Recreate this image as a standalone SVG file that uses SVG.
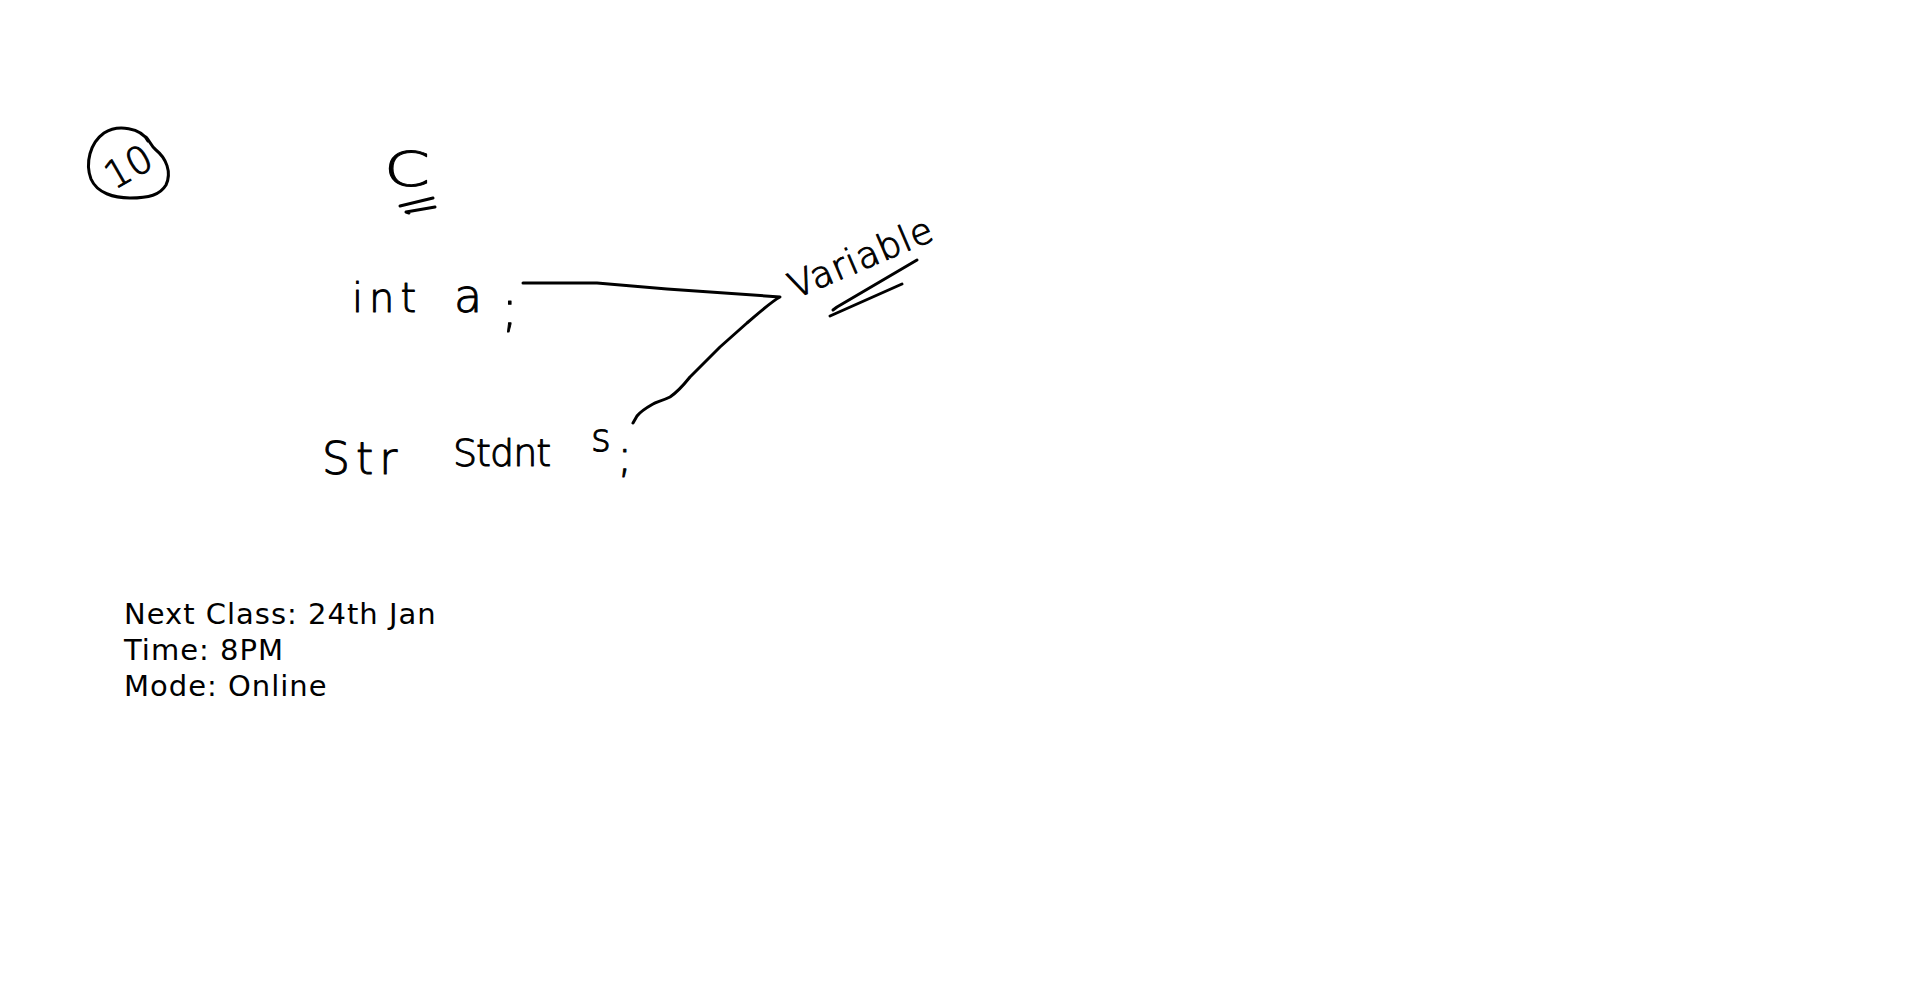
<svg xmlns="http://www.w3.org/2000/svg" width="1920" height="991" viewBox="0 0 1920 991">
<style>
.ink{fill:none;stroke:#000;stroke-width:3;stroke-linecap:round;stroke-linejoin:round}
.hw{font-family:"DejaVu Sans","Liberation Sans",sans-serif;font-weight:200;fill:#000;stroke:#000;stroke-width:1;stroke-linejoin:round}
.note{font-family:"DejaVu Sans","Verdana","Liberation Sans",sans-serif;font-size:29px;letter-spacing:1px;fill:#000}
</style>
<rect width="1920" height="991" fill="#fff"/>
<g id="badge-10">
<path class="ink" d="M148,141 C141,128 118,124 104,133 C90,143 85,163 91,179 C97,193 114,198 130,198 C149,198 160,195 166,185 C172,172 166,158 156,150 C151,146 150,141 146,137"/>
<text class="hw" x="128" y="180" font-size="38" text-anchor="middle" transform="rotate(-30 128 166)">10</text>
</g>
<g id="title-c">
<text class="hw" x="384" y="186" font-size="48" textLength="46" lengthAdjust="spacingAndGlyphs">C</text>
<path class="ink" d="M400,206 L433,198"/>
<path class="ink" d="M409,213 L406,212 L435,207"/>
</g>
<g id="node-int">
<text class="hw" font-size="40"><tspan x="352" y="312" letter-spacing="6">int</tspan><tspan x="454" y="312" font-size="46">a</tspan><tspan x="501" y="326" font-size="52">;</tspan></text>
</g>
<g id="node-struct">
<text class="hw"><tspan x="322" y="474" font-size="44" letter-spacing="6">Str</tspan><tspan x="453" y="466" font-size="38" letter-spacing="-1">Stdnt</tspan><tspan x="591" y="451" font-size="38">s</tspan><tspan x="617" y="472" font-size="46">;</tspan></text>
</g>
<g id="node-variable">
<text class="hw" x="795" y="299" font-size="36" letter-spacing="1" transform="rotate(-23 795 299)">Variable</text>
<path class="ink" d="M833,310 L837,307 L917,260"/>
<path class="ink" d="M830,316 L902,284"/>
</g>
<g id="connectors">
<path class="ink" d="M523,283 L597,283 L667,289 L780,297 C772,301 760,312 747,323 L720,347 L690,377 C682,387 676,393 670,397 C662,401 656,402 653,404 C646,408 640,412 637,416 L633,423"/>
</g>
<g id="notes">
<text class="note" x="124" y="624">Next Class: 24th Jan</text>
<text class="note" x="124" y="660">Time: 8PM</text>
<text class="note" x="124" y="696">Mode: Online</text>
</g>
</svg>
